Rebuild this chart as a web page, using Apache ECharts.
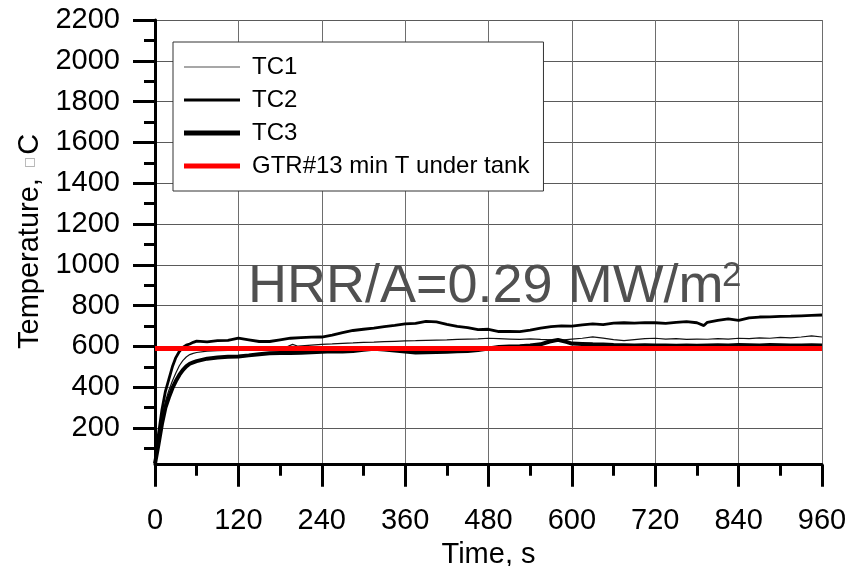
<!DOCTYPE html>
<html>
<head>
<meta charset="utf-8">
<script src="https://cdn.jsdelivr.net/npm/echarts@6/dist/echarts.min.js"></script>
<style>
  html, body { margin: 0; padding: 0; background: #fff; }
  #chart { width: 861px; height: 566px; }
</style>
</head>
<body>
<div id="chart"></div>
<script>
const FONT = '"Liberation Sans", Arial, Helvetica, sans-serif';

// Tick values
const xTicks = [0, 120, 240, 360, 480, 600, 720, 840, 960];
const yTicks = [200, 400, 600, 800, 1000, 1200, 1400, 1600, 1800, 2000, 2200];

// Series names
const seriesNames = ['TC1', 'TC2', 'TC3', 'GTR#13 min T under tank'];

// TC1 — time (s) and temperature (°C)
const tc1Time = [0, 5, 10, 15, 20, 25, 30, 35, 40, 45, 50, 55,
  60, 75, 90, 105, 120, 135, 150, 165, 180, 190, 198, 206,
  225, 240, 255, 270, 285, 300, 315, 330, 345, 360, 375, 390, 405, 420, 435, 450, 465, 480,
  495, 510, 525, 540, 555, 570, 585, 600, 615, 630, 645, 660, 675, 690, 705, 720,
  735, 750, 765, 780, 795, 810, 825, 840, 855, 870, 885, 900, 915, 930, 945, 960];
const tc1Temp = [25, 140, 250, 330, 385, 430, 470, 505, 530, 548, 560, 566,
  570, 577, 579, 580, 582, 584, 586, 588, 592, 598, 610, 601,
  606, 610, 612, 615, 617, 620, 621, 623, 625, 627, 628, 630, 631, 632, 634, 636, 637, 640,
  638, 636, 634, 637, 634, 632, 631, 636, 640, 647, 641, 633, 628, 633, 638, 640,
  636, 638, 634, 636, 635, 638, 636, 640, 638, 642, 640, 644, 642, 646, 652, 646];

// TC2
const tc2Time = [0, 5, 10, 15, 20, 25, 30, 35, 40, 45, 50, 55,
  60, 75, 90, 105, 120, 135, 150, 165, 180, 195, 210, 225, 240, 255, 270, 285,
  300, 315, 330, 345, 360, 375, 390, 405, 420, 435, 450, 465, 480, 495, 510, 525,
  540, 555, 570, 585, 600, 615, 630, 645, 660, 675, 690, 705, 720, 735, 750, 765, 780,
  790, 795, 810, 825, 840, 855, 870, 885, 900, 915, 930, 945, 960];
const tc2Temp = [25, 170, 290, 380, 440, 500, 545, 575, 595, 606, 612, 620,
  626, 622, 628, 630, 640, 632, 624, 624, 632, 640, 643, 645, 646, 655, 668, 678,
  684, 690, 697, 703, 710, 713, 723, 720, 708, 698, 692, 682, 684, 673, 674, 672,
  680, 690, 697, 701, 699, 706, 710, 707, 714, 716, 714, 717, 716, 713, 718, 721, 716,
  702, 718, 728, 735, 728, 740, 744, 745, 747, 748, 750, 752, 754];

// TC3
const tc3Time = [0, 5, 10, 15, 20, 25, 30, 35, 40, 45, 50, 55,
  60, 75, 90, 105, 120, 135, 150, 165, 180, 195, 210, 225, 240, 255, 270, 285,
  300, 315, 330, 345, 360, 375, 390, 405, 420, 435, 450, 465, 480, 495, 510, 525, 540, 555,
  568, 580, 592, 600,
  615, 630, 645, 660, 675, 690, 705, 720, 735, 750, 765, 780, 795, 810, 825, 840,
  855, 870, 885, 900, 915, 930, 945, 960];
const tc3Temp = [25, 120, 220, 300, 350, 395, 430, 460, 484, 502, 515, 522,
  528, 540, 546, 549, 551, 556, 562, 566, 568, 568, 569, 571, 574, 576, 575, 577,
  583, 588, 585, 580, 575, 570, 571, 572, 574, 576, 578, 582, 590, 597, 600, 601, 604, 610,
  624, 632, 622, 614,
  612, 610, 609, 607, 606, 605, 606, 604, 605, 603, 604, 603, 605, 606, 605, 607,
  606, 605, 607, 606, 605, 604, 606, 604];

// GTR#13 minimum temperature under the tank
const gtrTime = [0, 960];
const gtrTemp = [590, 590];

const pairs = (t, v) => t.map((x, i) => [x, v[i]]);

// legend swatch: a flat bar of the given thickness (aspect kept inside the 56×14 icon box)
const bar = h => 'path://M0,0h56v' + h + 'h-56z';

const chart = echarts.init(document.getElementById('chart'), null, { renderer: 'canvas' });

chart.setOption({
  backgroundColor: '#fff',
  animation: false,
  textStyle: { fontFamily: FONT },
  grid: {
    left: 155, top: 20, width: 667, height: 448.8,
    containLabel: false,
    outerBoundsMode: 'none'
  },
  xAxis: {
    type: 'value',
    min: 0, max: 960, interval: 120,
    name: 'Time, s',
    nameLocation: 'middle',
    nameGap: 67,
    nameTextStyle: { fontSize: 29, color: '#000', fontFamily: FONT },
    axisLine: {
      show: true, onZero: true, onZeroAxisIndex: 1,
      lineStyle: { color: '#000', width: 3 }
    },
    axisTick: {
      show: true, inside: false, length: 22,
      lineStyle: { color: '#000', width: 3 }
    },
    minorTick: {
      show: true, splitNumber: 2, length: 11,
      lineStyle: { color: '#000', width: 3 }
    },
    axisLabel: {
      margin: 38, fontSize: 29, color: '#000', fontFamily: FONT,
      formatter: v => String(v)
    },
    splitLine: { show: true, lineStyle: { color: '#6e6e6e', width: 1 } },
    minorSplitLine: { show: false }
  },
  yAxis: [
    {
      type: 'value',
      min: 0, max: 2200, interval: 200,
      name: 'Temperature, {b|\u25A1}C',
      nameLocation: 'middle',
      nameRotate: 90,
      nameGap: 94,
      nameTextStyle: {
        fontSize: 29, color: '#000', fontFamily: FONT,
        padding: [0, 0, 0, 6],
        rich: { b: { fontSize: 12, color: '#a0a0a0', fontFamily: 'DejaVu Sans', padding: [0, 2, 0, 2] } }
      },
      axisLine: { show: true, lineStyle: { color: '#000', width: 3 } },
      axisTick: {
        show: true, inside: false, length: 22,
        customValues: yTicks,
        lineStyle: { color: '#000', width: 3 }
      },
      minorTick: {
        show: true, splitNumber: 2, length: 11,
        lineStyle: { color: '#000', width: 3 }
      },
      axisLabel: {
        customValues: yTicks,
        margin: 35, fontSize: 29, color: '#000', fontFamily: FONT,
        formatter: v => String(v)
      },
      splitLine: { show: true, lineStyle: { color: '#5a5a5a', width: 1 } }
    },
    {
      // helper scale: its zero marks where the time axis is drawn (about 20 °C)
      type: 'value',
      min: -20, max: 2180,
      show: false,
      splitLine: { show: false }
    }
  ],
  legend: {
    orient: 'vertical',
    left: 173, top: 42,
    padding: [13, 14, 13, 11],
    itemWidth: 56, itemHeight: 14, itemGap: 9,
    backgroundColor: '#fff',
    borderColor: '#333', borderWidth: 1,
    selectedMode: false,
    textStyle: { fontSize: 24, color: '#000', fontFamily: FONT, lineHeight: 24, padding: [0, 0, 0, 7] },
    data: [
      { name: seriesNames[0], icon: bar(1.6), itemStyle: { color: '#8a8a8a' } },
      { name: seriesNames[1], icon: bar(3), itemStyle: { color: '#000' } },
      { name: seriesNames[2], icon: bar(5), itemStyle: { color: '#000' } },
      { name: seriesNames[3], icon: bar(5), itemStyle: { color: '#ff0000' } }
    ]
  },
  graphic: [
    {
      type: 'text', left: 248, top: 260, z: 10,
      style: { text: 'HRR/A=0.29 MW/m', font: '54px ' + FONT, fill: '#505050' }
    },
    {
      type: 'text', left: 722, top: 259, z: 10,
      style: { text: '2', font: '35px ' + FONT, fill: '#505050' }
    }
  ],
  series: [
    {
      name: seriesNames[0], type: 'line', yAxisIndex: 0,
      data: pairs(tc1Time, tc1Temp),
      symbol: 'none', showSymbol: false,
      lineStyle: { color: '#111', width: 1.2 },
      itemStyle: { color: '#111' },
      z: 3
    },
    {
      name: seriesNames[1], type: 'line', yAxisIndex: 0,
      data: pairs(tc2Time, tc2Temp),
      symbol: 'none', showSymbol: false,
      lineStyle: { color: '#000', width: 2.8 },
      itemStyle: { color: '#000' },
      z: 3
    },
    {
      name: seriesNames[2], type: 'line', yAxisIndex: 0,
      data: pairs(tc3Time, tc3Temp),
      symbol: 'none', showSymbol: false,
      lineStyle: { color: '#000', width: 4 },
      itemStyle: { color: '#000' },
      z: 3
    },
    {
      name: seriesNames[3], type: 'line', yAxisIndex: 0,
      data: pairs(gtrTime, gtrTemp),
      symbol: 'none', showSymbol: false,
      lineStyle: { color: '#ff0000', width: 5 },
      itemStyle: { color: '#ff0000' },
      z: 4
    }
  ]
});
</script>
</body>
</html>
